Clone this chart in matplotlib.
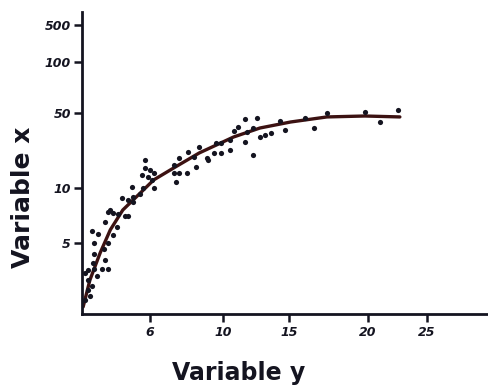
import numpy as np
import matplotlib.pyplot as plt

# hand drawn axes: tick spacing is uneven, so the scales go through knots
y_knot_vals = [0, 5, 10, 50, 100, 500, 1000]
y_knot_pos = [0, 71, 126, 201, 252, 289, 302]
x_knot_vals = [0, 6, 10, 15, 20, 25, 30]
x_knot_pos = [0, 68, 141, 207, 286, 345, 406]

# scatter points (variable y, variable x)
pts_y = [2.3, 3.2, 3.8, 4.1, 2.0, 0.9, 1.4, 3.1, 2.7, 1.1, 2.3, 1.9, 1.1, 2.0,
         1.0, 1.8, 2.3, 1.1, 0.5, 0.3, 1.3, 0.5, 0.9, 0.5, 0.7, 0.3,
         5.6, 5.6, 6.0, 6.2, 5.3, 5.8, 6.1, 4.4, 5.1, 4.5, 3.5, 4.1, 4.5, 2.5,
         2.7, 6.2, 7.3, 7.6, 8.1, 8.7, 8.4, 9.1, 7.3, 7.6, 8.0, 8.5, 7.4, 5.4,
         11.7, 12.6, 11.1, 10.8, 11.8, 12.3, 14.3, 14.7, 12.8, 13.2, 13.6, 11.7,
         12.3, 9.6, 9.9, 10.5, 9.5, 9.9, 10.5, 9.2,
         16.0, 17.4, 16.6, 19.8, 21.0, 22.5]
pts_x = [7.8, 7.6, 7.5, 7.5, 6.9, 6.1, 5.8, 6.5, 5.7, 5.0, 5.0, 4.6, 4.2, 3.8,
         3.6, 3.2, 3.2, 3.2, 3.1, 2.9, 2.7, 2.4, 2.0, 1.7, 1.3, 1.0,
         24.9, 20.7, 19.6, 18.0, 16.9, 15.9, 14.3, 10.5, 9.5, 9.2, 9.1, 8.9, 8.7, 8.0,
         7.7, 10.0, 22.3, 26.0, 29.2, 31.9, 26.5, 26.0, 18.0, 18.0, 18.0, 21.2, 13.2, 10.0,
         46.8, 47.3, 42.5, 40.4, 39.9, 42.0, 45.7, 40.9, 37.2, 38.3, 39.3, 34.5,
         27.6, 34.0, 34.0, 35.6, 28.7, 28.7, 30.3, 24.9,
         47.3, 50.0, 42.0, 51.0, 45.2, 52.9]

# fitted curve
curve_y = [0.1, 0.7, 1.6, 2.5, 3.6, 5.1, 6.2, 7.3, 8.7, 10.8, 12.8, 15.1, 17.4, 19.8, 22.7]
curve_x = [0.5, 2.4, 4.3, 6.2, 8.0, 9.5, 14.3, 20.7, 28.7, 37.2, 42.0, 45.2, 47.9, 48.4, 47.9]

y_ticks = [5, 10, 50, 100, 500]
x_ticks = [6, 10, 15, 20, 25]

ink = '#141420'

fig = plt.figure(figsize=(4.88, 3.88), dpi=100)
ax = fig.add_axes([82 / 488, 74 / 388, 406 / 488, 302 / 388])

ax.set_yscale('function', functions=(lambda v: np.interp(v, y_knot_vals, y_knot_pos),
                                     lambda p: np.interp(p, y_knot_pos, y_knot_vals)))
ax.set_xscale('function', functions=(lambda v: np.interp(v, x_knot_vals, x_knot_pos),
                                     lambda p: np.interp(p, x_knot_pos, x_knot_vals)))

ax.scatter(pts_y, pts_x, s=14, color=ink, zorder=3, linewidths=0)
ax.plot(curve_y, curve_x, color='#3c1212', lw=2.4, zorder=2, solid_capstyle='round')

ax.set_xlim(0, 30)
ax.set_ylim(0, 1000)

for s in ['top', 'right']:
    ax.spines[s].set_visible(False)
for s in ['left', 'bottom']:
    ax.spines[s].set_linewidth(2.0)
    ax.spines[s].set_color(ink)

ax.set_yticks(y_ticks)
ax.set_yticklabels([str(t) for t in y_ticks])
ax.set_xticks(x_ticks)
ax.set_xticklabels([str(t) for t in x_ticks])
ax.minorticks_off()
ax.tick_params(axis='y', direction='out', length=6, width=1.8, pad=2, colors=ink,
               labelsize=9)
ax.tick_params(axis='x', direction='out', length=6, width=1.8, pad=3, colors=ink,
               labelsize=9)
for lab in ax.get_xticklabels() + ax.get_yticklabels():
    lab.set_fontweight('bold')
    lab.set_fontstyle('italic')

fig.text(0.047, 0.492, 'Variable x', rotation=90, ha='center', va='center',
         fontsize=18, fontweight='bold', color=ink)
fig.text(0.49, 0.02, 'Variable y', ha='center', va='baseline',
         fontsize=17, fontweight='bold', color=ink)

fig.savefig('out.png', dpi=100)
